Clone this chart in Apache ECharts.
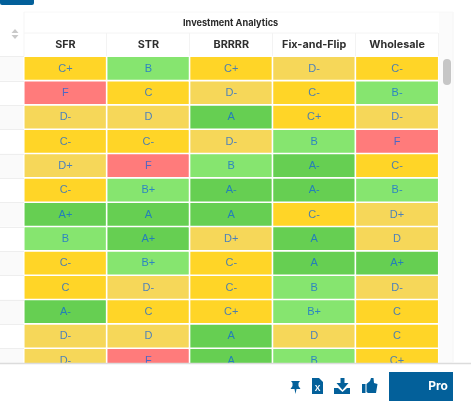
<!DOCTYPE html>
<html><head><meta charset="utf-8">
<style>html,body{margin:0;padding:0;background:#fff}#c{width:471px;height:406px}</style>
<script src="https://cdn.jsdelivr.net/npm/echarts@6/dist/echarts.min.js"></script>
</head><body><div id="c"></div>
<script>
const categories = ['SFR', 'STR', 'BRRRR', 'Fix-and-Flip', 'Wholesale'];
const rowsCount = 13;
const sfr       = ['C+','F','D-','C-','D+','C-','A+','B','C-','C','A-','D-','D-'];
const str       = ['B','C','D','C-','F','B+','A','A+','B+','D-','C','D','F'];
const brrrr     = ['C+','D-','A','D-','B','A-','A','D+','C-','C-','C+','A','A'];
const fixFlip   = ['D-','C-','C+','B','A-','A-','C-','A','A','B','B+','D','B'];
const wholesale = ['C-','B-','D-','F','C-','B-','D+','D','A+','D-','C','C','C+'];
const title = 'Investment Analytics';
const buttonLabel = 'Pro';

const columns = [sfr, str, brrrr, fixFlip, wholesale];
const band = g => g[0] === 'A' ? 0 : g[0] === 'B' ? 1 : g[0] === 'C' ? 2 : g[0] === 'D' ? 3 : 4;
const rows = Array.from({length: rowsCount}, (_, i) => String(i));
const cells = [];
columns.forEach((col, x) => col.forEach((g, y) => cells.push({value: [x, y, band(g)], grade: g})));
const leftCells = rows.map((r, y) => ({value: [0, y, y % 2 ? 6 : 5]}));
const blue = '#03609a';

const chart = echarts.init(document.getElementById('c'), null, {renderer: 'canvas'});
const line = (x1, y1, x2, y2, c, w) => ({type: 'line', z: 10, silent: true, shape: {x1, y1, x2, y2}, style: {stroke: c, lineWidth: w || 1}});
const hiddenAxis = {axisLine: {show: false}, axisTick: {show: false}, axisLabel: {show: false}, splitLine: {show: false}};
chart.setOption({
  animation: false,
  backgroundColor: '#fff',
  textStyle: {fontFamily: 'Inter'},
  title: {text: title, left: 178, top: 13.5,
    textStyle: {fontSize: 9.2, fontWeight: 'bold', color: '#2b2b2b', fontFamily: 'Inter'}},
  grid: [
    {left: 24, top: 56.5, width: 414.5, height: 316.3},
    {left: 0, top: 56.5, width: 24, height: 316.3}
  ],
  xAxis: [
    {type: 'category', position: 'top', gridIndex: 0, data: categories,
      axisLine: {show: false}, axisTick: {show: false}, splitLine: {show: false},
      axisLabel: {interval: 0, margin: 6, fontSize: 10.8, fontWeight: 'bold', color: '#2f2f2f', fontFamily: 'Inter'}},
    Object.assign({type: 'category', gridIndex: 1, data: ['']}, hiddenAxis)
  ],
  yAxis: [
    Object.assign({type: 'category', gridIndex: 0, inverse: true, data: rows}, hiddenAxis),
    Object.assign({type: 'category', gridIndex: 1, inverse: true, data: rows, z: 5}, hiddenAxis,
      {splitLine: {show: true, interval: 0, lineStyle: {color: '#eeeeee', width: 1}}})
  ],
  visualMap: {show: false, type: 'piecewise', dimension: 2, seriesIndex: [0, 1], pieces: [
    {value: 0, color: '#66cf52'}, {value: 1, color: '#86e56f'}, {value: 2, color: '#ffd527'},
    {value: 3, color: '#f6d759'}, {value: 4, color: '#ff7b7b'}, {value: 5, color: '#fafafa'}, {value: 6, color: '#ffffff'}]},
  series: [
    {type: 'heatmap', xAxisIndex: 1, yAxisIndex: 1, data: leftCells, z: 1, label: {show: false}},
    {type: 'heatmap', xAxisIndex: 0, yAxisIndex: 0, data: cells, itemStyle: {borderColor: '#ffffff', borderWidth: 1.6},
      label: {show: true, fontSize: 11, fontFamily: 'Liberation Sans', color: 'rgba(10,95,225,0.72)',
        formatter: p => p.data.grade}}
  ],
  graphic: [
    {type: 'rect', z: 9, silent: true, shape: {x: 0, y: 363, width: 471, height: 43}, style: {fill: '#fff'}},
    line(0, 363.5, 471, 363.5, '#dcdcdc', 1.4),
    {type: 'rect', z: 9, silent: true, shape: {x: 439, y: 12, width: 14, height: 351}, style: {fill: '#fbfbfb'}},
    line(453, 12, 453, 363, '#f4f4f4', 1),
    line(24, 12, 453, 12, '#f8f8f8', 1),
    line(24, 33, 438, 33, '#f4f4f4', 1),
    line(24, 12, 24, 56, '#f5f5f5', 1),
    line(106.5, 33, 106.5, 56, '#f3f3f3', 1),
    line(189.5, 33, 189.5, 56, '#f3f3f3', 1),
    line(272.5, 33, 272.5, 56, '#f3f3f3', 1),
    line(355.5, 33, 355.5, 56, '#f3f3f3', 1),
    line(438.5, 33, 438.5, 56, '#f3f3f3', 1),
    {type: 'rect', z: 10, silent: true, shape: {x: 443, y: 59, width: 8, height: 26, r: 4}, style: {fill: '#c6c6c6'}},
    {type: 'rect', z: 10, silent: true, shape: {x: 0, y: -6, width: 34, height: 11, r: 2}, style: {fill: blue}},
    {type: 'polygon', z: 10, silent: true, shape: {points: [[15,29],[18.5,33],[11.5,33]]}, style: {fill: '#c9c9c9'}},
    {type: 'polygon', z: 10, silent: true, shape: {points: [[11.5,35],[18.5,35],[15,39]]}, style: {fill: '#c9c9c9'}},
    // pin
    {type: 'polygon', z: 10, silent: true, shape: {points: [[291,381],[300,381],[298.5,383],[298.5,386],[300.5,389],[296.5,389],[295.5,394],[294.5,389],[290.5,389],[292.5,386],[292.5,383]]}, style: {fill: blue}},
    // excel file
    {type: 'polygon', z: 10, silent: true, shape: {points: [[312,378],[319,378],[323,382],[323,394],[312,394]]}, style: {fill: blue}},
    {type: 'text', z: 11, silent: true, style: {text: 'X', x: 317.5, y: 389, fill: '#fff', font: 'bold 8.5px Liberation Sans', align: 'center', verticalAlign: 'middle'}},
    // download
    {type: 'polygon', z: 10, silent: true, shape: {points: [[340.5,378],[344.5,378],[344.5,383],[348.5,383],[342.5,390],[336.5,383],[340.5,383]]}, style: {fill: blue}},
    {type: 'polygon', z: 10, silent: true, shape: {points: [[334,388],[338,388],[342.5,392],[347,388],[350,388],[350,394],[334,394]]}, style: {fill: blue}},
    // thumb
    {type: 'rect', z: 10, silent: true, shape: {x: 362, y: 384, width: 3.5, height: 9}, style: {fill: blue}},
    {type: 'polygon', z: 10, silent: true, shape: {points: [[366.5,384],[370,381],[371,378],[373.5,378],[374,383],[377.5,384],[376,393],[368,393],[366.5,392]]}, style: {fill: blue}},
    // button
    {type: 'rect', z: 10, silent: true, shape: {x: 389, y: 372, width: 64, height: 29}, style: {fill: blue}},
    {type: 'text', z: 11, silent: true, style: {text: buttonLabel, x: 438, y: 386, fill: '#fff', font: 'bold 12px Inter', align: 'center', verticalAlign: 'middle'}}
  ]
});
</script></body></html>
